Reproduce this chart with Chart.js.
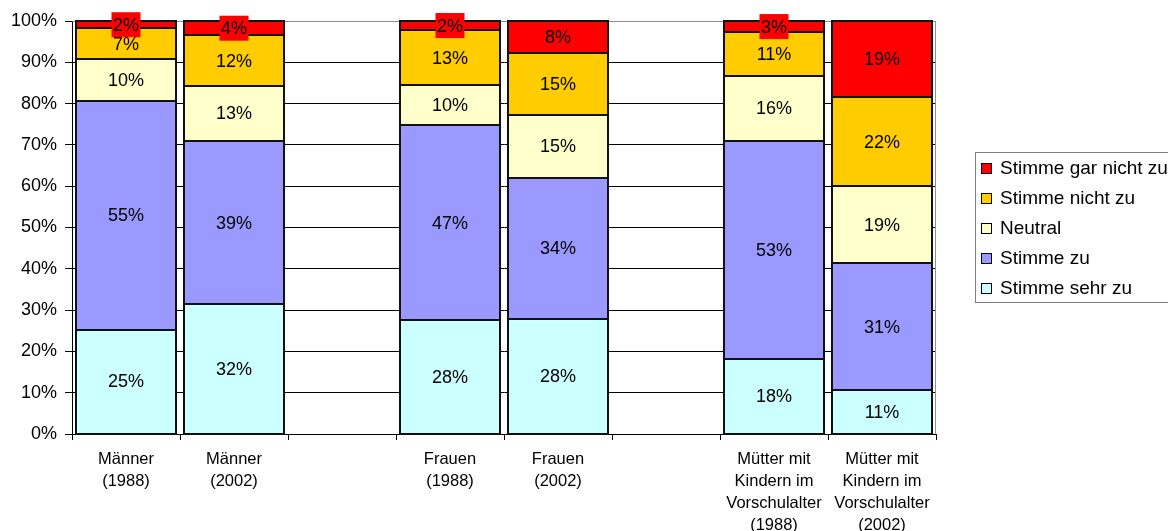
<!DOCTYPE html>
<html><head><meta charset="utf-8">
<script src="https://cdn.jsdelivr.net/npm/chart.js@4"></script>
<style>html,body{margin:0;padding:0;background:#fff}#wrap{width:1168px;height:531px;position:relative}</style>
</head><body><div id="wrap"><canvas id="c"></canvas></div>
<script>
const categories = [['Männer','(1988)'], ['Männer','(2002)'], '', ['Frauen','(1988)'], ['Frauen','(2002)'], '', ['Mütter mit','Kindern im','Vorschulalter','(1988)'], ['Mütter mit','Kindern im','Vorschulalter','(2002)']];
const seriesNames = ['Stimme sehr zu','Stimme zu','Neutral','Stimme nicht zu','Stimme gar nicht zu'];
const stimmeSehrZu     = [25.3, 31.5, null, 27.5, 27.9, null, 18.1, 10.7];
const stimmeZu         = [55.3, 39.4, null, 47.4, 34.1, null, 52.9, 30.6];
const neutral          = [10.2, 13.4, null,  9.6, 15.3, null, 15.7, 18.7];
const stimmeNichtZu    = [ 7.4, 12.2, null, 13.3, 14.9, null, 10.6, 21.5];
const stimmeGarNichtZu = [ 1.8,  3.5, null,  2.2,  7.8, null,  2.7, 18.5];
const yTickValues = [0,10,20,30,40,50,60,70,80,90,100];

const seriesColors = ['#CCFFFF','#9999FF','#FFFFCC','#FFCC00','#FF0000'];
const FONT = "'Liberation Sans', Arial, sans-serif";

const seriesData = [stimmeSehrZu, stimmeZu, neutral, stimmeNichtZu, stimmeGarNichtZu];
const datasets = seriesData.map((d,i)=>({
  label: seriesNames[i],
  data: d,
  backgroundColor: seriesColors[i],
  borderWidth: 0,
  stack: 's'
}));

const plotFrame = {
  id:'plotFrame',
  beforeDatasetsDraw(chart){
    const {ctx, chartArea:a} = chart;
    ctx.save();
    ctx.strokeStyle = '#909090';
    ctx.lineWidth = 1;
    ctx.beginPath();
    ctx.moveTo(Math.round(a.left)+0.5, Math.round(a.top)+0.5);
    ctx.lineTo(Math.round(a.right)-0.5, Math.round(a.top)+0.5);
    ctx.lineTo(Math.round(a.right)-0.5, Math.round(a.bottom));
    ctx.stroke();
    ctx.restore();
  }
};

const barDecor = {
  id:'barDecor',
  afterDatasetsDraw(chart){
    const ctx = chart.ctx;
    ctx.save();
    // outlines
    ctx.strokeStyle = '#111';
    ctx.lineWidth = 2;
    chart.data.datasets.forEach((ds,di)=>{
      const meta = chart.getDatasetMeta(di);
      meta.data.forEach((el,i)=>{
        if (ds.data[i] == null) return;
        const x1 = Math.round(el.x - el.width/2), x2 = Math.round(el.x + el.width/2);
        const y1 = Math.round(Math.min(el.y, el.base)), y2 = Math.round(Math.max(el.y, el.base));
        ctx.strokeRect(x1, y1, x2-x1, y2-y1);
      });
    });
    // labels
    ctx.font = '18px ' + FONT;
    ctx.textAlign = 'center';
    ctx.textBaseline = 'middle';
    chart.data.datasets.forEach((ds,di)=>{
      const meta = chart.getDatasetMeta(di);
      meta.data.forEach((el,i)=>{
        const v = ds.data[i];
        if (v == null) return;
        const txt = Math.round(v) + '%';
        const cx = el.x, cy = (el.y + el.base)/2;
        if (di === 4) {
          const w = ctx.measureText(txt).width + 3;
          ctx.fillStyle = seriesColors[4];
          ctx.fillRect(cx - w/2, cy - 12.5, w, 25);
        }
        ctx.fillStyle = '#000';
        ctx.fillText(txt, cx, cy + 1);
      });
    });
    ctx.restore();
  }
};

const boxLegend = {
  id:'boxLegend',
  afterDraw(chart){
    const ctx = chart.ctx;
    ctx.save();
    ctx.strokeStyle = '#808080';
    ctx.lineWidth = 1;
    ctx.strokeRect(975.5, 152.5, 210, 150);
    ctx.font = '19px ' + FONT;
    ctx.textAlign = 'left';
    ctx.textBaseline = 'middle';
    const n = chart.data.datasets.length;
    for (let k=0;k<n;k++){
      const di = n-1-k;
      const ds = chart.data.datasets[di];
      const cy = 168 + k*30;
      ctx.fillStyle = ds.backgroundColor;
      ctx.fillRect(981, Math.round(cy-5), 11, 11);
      ctx.strokeStyle = '#000';
      ctx.strokeRect(981.5, Math.round(cy-5)+0.5, 10, 10);
      ctx.fillStyle = '#000';
      ctx.fillText(ds.label, 1000, cy + 1);
    }
    ctx.restore();
  }
};

new Chart(document.getElementById('c'), {
  type:'bar',
  data:{ labels: categories, datasets },
  plugins:[plotFrame, barDecor, boxLegend],
  options:{
    responsive:true, maintainAspectRatio:false,
    animation:false, events:[],
    layout:{ padding:{ left:0, top:21, right:232, bottom:0 } },
    plugins:{ legend:{display:false}, tooltip:{enabled:false} },
    datasets:{ bar:{ categoryPercentage:1, barPercentage:0.92 } },
    scales:{
      x:{
        stacked:true,
        grid:{ display:true, drawOnChartArea:false, drawTicks:true, tickLength:6, color:'#000', offset:true },
        border:{ color:'#000', width:1 },
        ticks:{ color:'#000', font:{ family:FONT, size:16.5, lineHeight:'22px' }, padding:8, maxRotation:0, autoSkip:false },
        afterFit(s){ s.height = 97; }
      },
      y:{
        stacked:true, min:0, max:100,
        afterBuildTicks(s){ s.ticks = yTickValues.map(v=>({value:v})); },
        grid:{ color:(c)=> (c.tick && c.tick.value===100) ? '#909090' : '#000', tickColor:'#000', tickLength:7, lineWidth:1 },
        border:{ color:'#000', width:1 },
        ticks:{ color:'#000', font:{ family:FONT, size:18 }, padding:8, callback:(v)=> v + '%' },
        afterFit(s){ s.width = 72; }
      }
    }
  }
});
</script></body></html>
